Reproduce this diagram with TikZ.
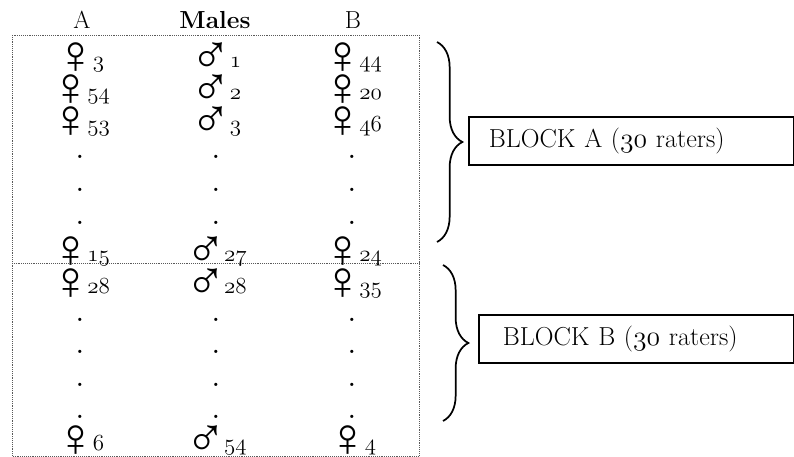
\documentclass[tikz,border=0pt]{standalone}
\usepackage{fontspec}
\newfontfamily\gsym{Liberation Serif}
\usetikzlibrary{%
  calc,%
  decorations.pathreplacing%
}
\tikzset{>=latex}
\newcommand{\osf}[1]{{\usefont{OML}{lmm}{m}{it}#1}}
\newcommand{\fem}[1]{\smash{\raisebox{-5pt}{\gsym\fontsize{41}{41}\selectfont ♀}}\kern-2.8pt{\fontsize{17}{17}\selectfont\osf{#1}}}
\newcommand{\mal}[1]{\smash{\raisebox{-5pt}{\gsym\fontsize{41}{41}\selectfont ♂}}\kern-1.5pt{\fontsize{17}{17}\selectfont\osf{#1}}}

\begin{document}
\begin{tikzpicture}[x=0.75pt,y=-0.75pt,
    lbl/.style={anchor=base,inner sep=0pt},
    hdr/.style={anchor=base,inner sep=0pt,font=\fontsize{18.5}{20}\selectfont},
    vdot/.style={anchor=base,inner sep=0pt,font=\fontsize{17}{17}\selectfont\bfseries},
    blockbox/.style={draw,line width=1.3pt,anchor=west,align=left,
      minimum height=36pt,font=\fontsize{19.5}{22}\selectfont},
    bbrace/.style={line width=1.3pt,decorate,decoration={brace,amplitude=19pt}}]
    \useasboundingbox (0,0) rectangle (794,457);
    % dotted frame
    \draw[densely dotted,gray!70!black] (12,35) rectangle (419,456);
    \draw[densely dotted,gray!70!black] (12,263) -- (419,263);
    % column heads
    \node[hdr] (hA) at (82,28) {A};
    \node[hdr] (hM) at (215,28) {\bfseries Males};
    \node[hdr] (hB) at (353,28) {B};
    % block A
    \node[lbl] (a1) at (80,67) {\fem{3}};
    \node[lbl] (m1) at (216,67) {\mal{1}};
    \node[lbl] (b1) at (352,67) {\fem{44}};
    \node[lbl] (a2) at (80,99) {\fem{54}};
    \node[lbl] (m2) at (216,99) {\mal{2}};
    \node[lbl] (b2) at (352,99) {\fem{20}};
    \node[lbl] (a3) at (80,131) {\fem{53}};
    \node[lbl] (m3) at (216,131) {\mal{3}};
    \node[lbl] (b3) at (352,131) {\fem{46}};
    \node[lbl] (a4) at (80,261) {\fem{15}};
    \node[lbl] (m4) at (216,261) {\mal{27}};
    \node[lbl] (b4) at (352,261) {\fem{24}};
    % block B
    \node[lbl] (a5) at (80,293) {\fem{28}};
    \node[lbl] (m5) at (216,293) {\mal{28}};
    \node[lbl] (b5) at (352,293) {\fem{35}};
    \node[lbl] (a6) at (80,450) {\fem{6}};
    \node[lbl] (m6) at (216,450) {\mal{54}};
    \node[lbl] (b6) at (352,450) {\fem{4}};
    % dots
    \foreach \y in {158,191,224,321,353,386,418}{
      \node[vdot] (dA\y) at (80,\y) {.};
      \node[vdot] (dM\y) at (216,\y) {.};
      \node[vdot] (dB\y) at (352,\y) {.};
    }
    % blocks
    \node[blockbox,inner xsep=15pt,text width=214pt] (blkA) at (468,141)
    {BLOCK A (\osf{30} raters)};
    \node[blockbox,inner xsep=18pt,text width=200pt] (blkB) at (478,339)
    {BLOCK B (\osf{30} raters)};
    \coordinate (bAt) at (437,42);
    \coordinate (bAb) at (437,242);
    \coordinate (bBt) at (443,265);
    \coordinate (bBb) at (443,421);
    \draw[bbrace] (bAt) -- (bAb);
    \draw[bbrace] (bBt) -- (bBb);
\end{tikzpicture}
\end{document}
